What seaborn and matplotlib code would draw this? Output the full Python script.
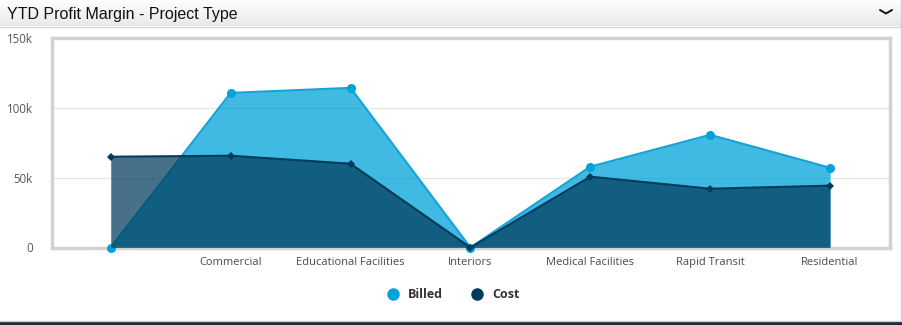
import numpy as np
import pandas as pd
import matplotlib
matplotlib.use("Agg")
import matplotlib.pyplot as plt
from matplotlib.lines import Line2D
from matplotlib.patches import Rectangle
import seaborn as sns

categories = ["", "Commercial", "Educational Facilities", "Interiors",
              "Medical Facilities", "Rapid Transit", "Residential"]
billed = [0, 110700, 114300, 0, 57900, 80700, 57100]
cost = [65000, 65700, 60000, 0, 50700, 42100, 44300]
yticks = [0, 50000, 100000, 150000]
yticklabels = ["0", "50k", "100k", "150k"]
title = "YTD Profit Margin - Project Type"

BILLED_C = "#00a3d9"
COST_C = "#003b5c"

sns.set_theme(style="white")
plt.rcParams["font.family"] = ["Open Sans", "DejaVu Sans"]

W, H = 902, 325
fig = plt.figure(figsize=(W / 100, H / 100), dpi=100)
fig.patch.set_facecolor("white")

# header bar with gradient
hdr = fig.add_axes([0, 1 - 26 / H, 1, 26 / H])
grad = np.linspace(0, 1, 50).reshape(-1, 1)
hdr.imshow(grad, aspect="auto", cmap=matplotlib.colors.LinearSegmentedColormap.from_list(
    "g", ["#fefefe", "#e9e9e9"]), extent=[0, 1, 0, 1], origin="upper")
hdr.set_xlim(0, 1); hdr.set_ylim(0, 1)
hdr.axis("off")
fig.text(7 / W, 1 - 14 / H, title, fontsize=11.5, family=["Liberation Sans", "DejaVu Sans"],
         color="#111111", va="center", ha="left")
fig.add_artist(Line2D([0, 1], [1 - 26.5 / H, 1 - 26.5 / H], color="#d5d5d5", lw=1, transform=fig.transFigure))
# chevron
fig.add_artist(Line2D([880 / W, 886 / W, 892 / W], [1 - 10 / H, 1 - 13.5 / H, 1 - 10 / H],
                      color="#111111", lw=1.4, transform=fig.transFigure))
# bottom dark bar
fig.add_artist(Rectangle((0, 0), 1, 3.5 / H, color="#1d2b36", transform=fig.transFigure))
fig.add_artist(Line2D([0, 1], [4 / H, 4 / H], color="#cfcfcf", lw=1, transform=fig.transFigure))
fig.add_artist(Line2D([900.5 / W, 900.5 / W], [4 / H, 1], color="#cfcfcf", lw=1, transform=fig.transFigure))

ax = fig.add_axes([52 / W, 1 - 247.5 / H, (890 - 52) / W, (247.5 - 38) / H])
x = np.arange(len(categories))
df = pd.DataFrame({
    "x": np.concatenate([x, x]),
    "value": billed + cost,
    "series": ["Billed"] * len(x) + ["Cost"] * len(x),
})

ax.yaxis.grid(True, color="#e6e6e6", lw=1)
ax.set_axisbelow(True)

ax.fill_between(x, billed, color=BILLED_C, alpha=0.75, lw=0, zorder=2)
sns.lineplot(data=df[df.series == "Billed"], x="x", y="value", color="#14a3d8", lw=1.5,
             marker="o", markersize=6.5, markeredgewidth=0, markerfacecolor=BILLED_C,
             ax=ax, zorder=3, legend=False, clip_on=False)
ax.fill_between(x, cost, color=COST_C, alpha=0.72, lw=0, zorder=4)
sns.lineplot(data=df[df.series == "Cost"], x="x", y="value", color=COST_C, lw=1.5,
             marker="D", markersize=4.5, markeredgewidth=0, markerfacecolor=COST_C,
             ax=ax, zorder=5, legend=False, clip_on=False)

ax.set_xlim(-0.49, 6.5)
ax.set_ylim(0, 150000)
ax.set_xticks(x)
ax.set_xticklabels(categories)
ax.set_yticks(yticks)
ax.set_yticklabels(yticklabels)
ax.set_xlabel("")
ax.set_ylabel("")
ax.tick_params(axis="x", length=0, pad=7, labelsize=8, labelcolor="#4a4a4a")
ax.tick_params(axis="y", length=0, pad=14, labelsize=8.3, labelcolor="#555555")
for s in ax.spines.values():
    s.set_visible(True)
    s.set_color("#d2d2d2")
    s.set_linewidth(2.5)

handles = [Line2D([], [], marker="o", ls="", markersize=9, markerfacecolor=BILLED_C, markeredgewidth=0),
           Line2D([], [], marker="o", ls="", markersize=9, markerfacecolor=COST_C, markeredgewidth=0)]
leg = fig.legend(handles, ["Billed", "Cost"], loc="center", bbox_to_anchor=(450 / W, 1 - 295 / H),
                 ncol=2, frameon=False, handletextpad=0.25, columnspacing=1.7,
                 prop={"family": ["Open Sans", "DejaVu Sans"], "weight": "bold", "size": 9})
for t in leg.get_texts():
    t.set_color("#333333")

fig.savefig("out.png", dpi=100)
